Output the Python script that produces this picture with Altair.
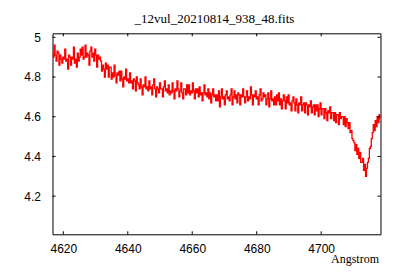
import altair as alt
import pandas as pd

title_text = "_12vul_20210814_938_48.fits"
x_label = "Angstrom"
x_ticks = [4620, 4640, 4660, 4680, 4700]
y_ticks = [4.2, 4.4, 4.6, 4.8, 5.0]
x_domain = [4616.65, 4718.4]
y_domain = [4.008, 5.02]

wave_start = 4616.7
wave_step = 0.3
flux = [
    4.92, 4.90, 4.96, 4.91, 4.88, 4.93, 4.92, 4.86, 4.91, 4.89,
    4.87, 4.90, 4.89, 4.94, 4.88, 4.89, 4.84, 4.91, 4.90, 4.86,
    4.90, 4.89, 4.95, 4.87, 4.89, 4.85, 4.92, 4.88, 4.90, 4.94,
    4.91, 4.95, 4.89, 4.90, 4.96, 4.90, 4.92, 4.91, 4.86, 4.93,
    4.95, 4.90, 4.92, 4.88, 4.94, 4.91, 4.85, 4.91, 4.89, 4.90,
    4.88, 4.83, 4.86, 4.84, 4.80, 4.87, 4.84, 4.86, 4.80, 4.85,
    4.85, 4.79, 4.82, 4.80, 4.86, 4.81, 4.77, 4.82, 4.81, 4.83,
    4.78, 4.83, 4.79, 4.75, 4.80, 4.79, 4.84, 4.78, 4.79, 4.77,
    4.82, 4.77, 4.78, 4.74, 4.79, 4.78, 4.73, 4.80, 4.77, 4.76,
    4.74, 4.79, 4.75, 4.71, 4.76, 4.75, 4.80, 4.74, 4.75, 4.73,
    4.78, 4.74, 4.75, 4.71, 4.76, 4.79, 4.74, 4.70, 4.75, 4.74,
    4.72, 4.77, 4.74, 4.74, 4.70, 4.75, 4.78, 4.73, 4.74, 4.72,
    4.76, 4.71, 4.73, 4.72, 4.77, 4.73, 4.69, 4.74, 4.73, 4.78,
    4.74, 4.70, 4.73, 4.77, 4.72, 4.69, 4.74, 4.74, 4.71, 4.76,
    4.72, 4.76, 4.71, 4.73, 4.72, 4.77, 4.73, 4.69, 4.74, 4.72,
    4.74, 4.70, 4.75, 4.71, 4.72, 4.68, 4.72, 4.76, 4.71, 4.72,
    4.70, 4.74, 4.69, 4.72, 4.67, 4.71, 4.74, 4.70, 4.71, 4.68,
    4.71, 4.68, 4.73, 4.65, 4.70, 4.74, 4.69, 4.70, 4.66, 4.71,
    4.73, 4.69, 4.70, 4.68, 4.71, 4.74, 4.66, 4.70, 4.73, 4.69,
    4.71, 4.67, 4.72, 4.71, 4.66, 4.71, 4.70, 4.74, 4.70, 4.67,
    4.70, 4.73, 4.68, 4.70, 4.69, 4.75, 4.71, 4.66, 4.71, 4.70,
    4.73, 4.69, 4.70, 4.66, 4.71, 4.74, 4.68, 4.69, 4.72, 4.70,
    4.71, 4.66, 4.69, 4.72, 4.65, 4.69, 4.73, 4.68, 4.69, 4.66,
    4.70, 4.66, 4.71, 4.68, 4.72, 4.66, 4.69, 4.64, 4.68, 4.71,
    4.68, 4.64, 4.70, 4.67, 4.71, 4.66, 4.67, 4.63, 4.68, 4.70,
    4.67, 4.63, 4.69, 4.66, 4.62, 4.67, 4.66, 4.70, 4.63, 4.66,
    4.67, 4.62, 4.67, 4.66, 4.61, 4.66, 4.65, 4.68, 4.62, 4.65,
    4.66, 4.61, 4.66, 4.63, 4.66, 4.60, 4.64, 4.67, 4.61, 4.64,
    4.64, 4.59, 4.64, 4.62, 4.58, 4.63, 4.62, 4.65, 4.59, 4.62,
    4.62, 4.58, 4.62, 4.57, 4.61, 4.61, 4.56, 4.62, 4.59, 4.60,
    4.60, 4.56, 4.60, 4.55, 4.59, 4.57, 4.54, 4.57, 4.52, 4.53,
    4.49, 4.48, 4.47, 4.43, 4.46, 4.41, 4.44, 4.39, 4.42, 4.37,
    4.37, 4.39, 4.33, 4.36, 4.30, 4.34, 4.37, 4.39, 4.44, 4.45,
    4.49, 4.52, 4.56, 4.53, 4.58, 4.55, 4.60, 4.57, 4.61, 4.59,
]
wave = [round(wave_start + wave_step * i, 2) for i in range(len(flux))]

W, H = 328, 201
TICK = 3

spec = pd.DataFrame({"wave": wave, "flux": flux})
xt = pd.DataFrame({"t": x_ticks})
yt = pd.DataFrame({"t": y_ticks})

xscale = alt.Scale(domain=x_domain, nice=False, zero=False)
yscale = alt.Scale(domain=y_domain, nice=False, zero=False)

line = alt.Chart(spec).mark_line(
    color="#ff0000", strokeWidth=1.3, interpolate="step", clip=True
).encode(
    x=alt.X("wave:Q", scale=xscale,
            axis=alt.Axis(values=x_ticks, title=x_label, grid=False, ticks=False,
                          domain=False, format="d", labelFont="Liberation Sans",
                          labelFontSize=12, labelColor="black", labelPadding=9,
                          labelFlush=False,
                          titleFont="Liberation Serif", titleFontSize=12,
                          titleFontWeight="normal", titleColor="black",
                          titleAnchor="end", titleAlign="right",
                          titleBaseline="alphabetic", titleX=W - 2, titleY=28)),
    y=alt.Y("flux:Q", scale=yscale,
            axis=alt.Axis(values=y_ticks, title=None, grid=False, ticks=False,
                          domain=False, format="~g", labelFont="Liberation Sans",
                          labelFontSize=12, labelColor="black", labelPadding=12,
                          labelFlush=False)),
)

rule = dict(color="black", strokeWidth=1)
xb = alt.Chart(xt).mark_rule(**rule).encode(
    x=alt.X("t:Q", scale=xscale), y=alt.value(H), y2=alt.value(H - TICK))
xtop = alt.Chart(xt).mark_rule(**rule).encode(
    x=alt.X("t:Q", scale=xscale), y=alt.value(0), y2=alt.value(TICK))
yl = alt.Chart(yt).mark_rule(**rule).encode(
    y=alt.Y("t:Q", scale=yscale), x=alt.value(0), x2=alt.value(TICK))
yr = alt.Chart(yt).mark_rule(**rule).encode(
    y=alt.Y("t:Q", scale=yscale), x=alt.value(W), x2=alt.value(W - TICK))

chart = alt.layer(line, xb, xtop, yl, yr).properties(
    width=W, height=H,
    title=alt.Title(title_text, font="Liberation Serif", fontSize=13,
                    fontWeight="normal", color="black", anchor="middle",
                    frame="group", baseline="alphabetic", offset=10, dx=-2, dy=14.7),
    padding={"left": 44.5, "top": 25.3, "right": 10, "bottom": 34},
    autosize=alt.AutoSizeParams(type="none"),
).configure_view(stroke="black", strokeWidth=1)

chart.save("out.html", embed_options={"renderer": "svg", "actions": False})
